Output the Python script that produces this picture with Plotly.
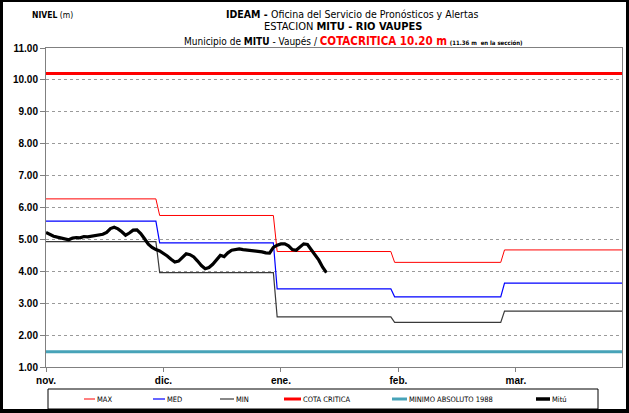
import pandas as pd
import plotly.graph_objects as go

# Monthly reference levels (m) for nov..mar
month_labels = ["nov.", "dic.", "ene.", "feb.", "mar."]
max_level = [6.27, 5.75, 4.62, 4.28, 4.67]
med_level = [5.57, 4.89, 3.45, 3.20, 3.63]
min_level = [4.93, 3.96, 2.57, 2.40, 2.75]
cota_critica = 10.20
minimo_absoluto_1988 = 1.48

# Daily stage readings at Mitú from 1 Nov
mitu = [
    5.22, 5.15, 5.10, 5.07, 5.04, 5.01, 4.99, 5.04, 5.06, 5.05,
    5.09, 5.08, 5.10, 5.11, 5.13, 5.16, 5.22, 5.34, 5.38, 5.33,
    5.24, 5.13, 5.20, 5.29, 5.30, 5.18, 5.02, 4.85, 4.75, 4.68,
    4.64, 4.57, 4.48, 4.38, 4.29, 4.32, 4.42, 4.55, 4.52, 4.45,
    4.32, 4.18, 4.08, 4.12, 4.22, 4.38, 4.50, 4.46, 4.58, 4.66,
    4.67, 4.70, 4.68, 4.67, 4.66, 4.65, 4.62, 4.61, 4.58, 4.57,
    4.75, 4.82, 4.86, 4.86, 4.80, 4.68, 4.66, 4.76, 4.86, 4.84,
    4.68, 4.48, 4.35, 4.13, 3.96,
]

season_start = pd.Timestamp("2023-11-01")
season_end = pd.Timestamp("2024-04-01")

# Daily calendar for the step series (last point closes the axis)
days = pd.date_range(season_start, season_end, freq="D")
month_idx = [min((d.year - season_start.year) * 12 + d.month - season_start.month, 4) for d in days]


def daily(levels):
    return [levels[i] for i in month_idx]


mitu_days = pd.date_range(season_start, periods=len(mitu), freq="D")
tick_dates = pd.date_range(season_start, periods=len(month_labels), freq="31D")

W, H = 629, 413
L, R, T, B = 46, 622, 48, 367


def px(x):
    return (x - L) / (R - L)


def py(y):
    return (B - y) / (B - T)


NARROW = "Liberation Sans Narrow, Arial Narrow, DejaVu Sans Condensed, sans-serif"
ARIAL = "Liberation Sans, Arial, sans-serif"

fig = go.Figure()
fig.add_trace(go.Scatter(x=days, y=daily(max_level), mode="lines", name="MAX",
                         line=dict(color="#FF0000", width=1)))
fig.add_trace(go.Scatter(x=days, y=daily(med_level), mode="lines", name="MED",
                         line=dict(color="#0000FF", width=1.2)))
fig.add_trace(go.Scatter(x=days, y=daily(min_level), mode="lines", name="MIN",
                         line=dict(color="#3A3A3A", width=1.2)))
fig.add_trace(go.Scatter(x=[season_start, season_end], y=[cota_critica] * 2, mode="lines",
                         name="COTA CRITICA", line=dict(color="#FF0000", width=3)))
fig.add_trace(go.Scatter(x=[season_start, season_end], y=[minimo_absoluto_1988] * 2, mode="lines",
                         name="MINIMO ABSOLUTO 1988", line=dict(color="#47A3B8", width=3)))
fig.add_trace(go.Scatter(x=mitu_days, y=mitu, mode="lines", name="Mitú",
                         line=dict(color="#000000", width=3.2)))

fig.update_layout(
    width=W, height=H,
    margin=dict(l=L, r=W - R, t=T, b=H - B),
    paper_bgcolor="white", plot_bgcolor="white",
    showlegend=False,
    font=dict(family=ARIAL, color="black"),
)
fig.update_xaxes(
    range=[season_start, season_end],
    tickvals=tick_dates, ticktext=month_labels,
    tickfont=dict(family=ARIAL, size=10, weight="bold"),
    ticks="outside", ticklen=4, tickcolor="#808080",
    showgrid=False, zeroline=False,
    showline=True, linecolor="#808080", linewidth=1, mirror=True,
)
fig.update_yaxes(
    range=[1, 11], dtick=1, tickformat=".2f",
    tickfont=dict(family=ARIAL, size=10, weight="bold"),
    ticks="outside", ticklen=5, tickcolor="#808080",
    showgrid=True, gridcolor="#9A9A9A", griddash="dot", gridwidth=1,
    zeroline=False,
    showline=True, linecolor="#808080", linewidth=1, mirror=True,
)

# Titles
titles = [
    ("<b>IDEAM - </b>Oficina del Servicio de Pronósticos y Alertas", 352, 14, 10.5),
    ("ESTACION <b>MITU - RIO VAUPES</b>", 343, 27, 11),
    ("Municipio de <b>MITU</b> - Vaupés / "
     "<span style='color:#FF0000;font-size:11.5px'><b>COTACRITICA 10.20 m</b></span> "
     "<span style='font-size:6px'><b>(11.36 m  en la sección)</b></span>", 353, 41, 10),
]
for text, x, y, size in titles:
    fig.add_annotation(text=text, x=px(x), y=py(y), xref="paper", yref="paper",
                       xanchor="center", yanchor="middle", showarrow=False,
                       font=dict(family=NARROW, size=size, color="black"))
fig.add_annotation(text="<b>NIVEL</b> (m)", x=px(30), y=py(15), xref="paper", yref="paper",
                   xanchor="left", yanchor="middle", showarrow=False,
                   font=dict(family=NARROW, size=8.5, color="black"))

# Legend box
legend_items = [
    ("MAX", "#FF0000", 1, 84, 95),
    ("MED", "#0000FF", 1.2, 153, 165),
    ("MIN", "#3A3A3A", 1.2, 220, 234),
    ("COTA CRITICA", "#FF0000", 3, 284, 301),
    ("MINIMO ABSOLUTO 1988", "#47A3B8", 3, 392, 407),
    ("Mitú", "#000000", 3.5, 536, 550),
]
shapes = [dict(type="rect", xref="paper", yref="paper", x0=px(48), x1=px(598),
               y0=py(389), y1=py(409), line=dict(color="black", width=1), fillcolor="white")]
for name, color, width, x0, x1 in legend_items:
    shapes.append(dict(type="line", xref="paper", yref="paper", x0=px(x0), x1=px(x1),
                       y0=py(399), y1=py(399), line=dict(color=color, width=width)))
    fig.add_annotation(text=name, x=px(x1), y=py(399), xref="paper", yref="paper",
                       xanchor="left", yanchor="middle", showarrow=False,
                       font=dict(family=NARROW, size=7.5, color="black"))

# Outer black frame
for x0, x1, y0, y1 in [(0, 3, 0, H), (626, W, 0, H), (0, W, 0, 2), (0, W, 409, H)]:
    shapes.append(dict(type="rect", xref="paper", yref="paper", x0=px(x0), x1=px(x1),
                       y0=py(y1), y1=py(y0), line=dict(width=0), fillcolor="black"))
fig.update_layout(shapes=shapes)

fig.write_html("out.html")
